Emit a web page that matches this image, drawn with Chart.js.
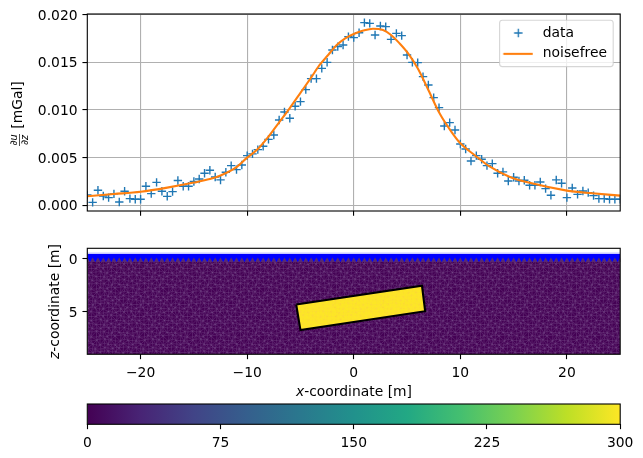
<!DOCTYPE html>
<html><head><meta charset="utf-8">
<style>
html,body{margin:0;padding:0;background:#fff;width:643px;height:458px;overflow:hidden}
.c{position:absolute;left:0;top:0;width:643px;height:458px}
</style>
<script src="https://cdn.jsdelivr.net/npm/chart.js@4/dist/chart.umd.min.js"></script>
</head><body>
<div class="c"><canvas id="top"></canvas></div>
<div class="c"><canvas id="mesh"></canvas></div>
<div class="c"><canvas id="bar"></canvas></div>
<script>
const xValues=[-25,-24.5,-24,-23.5,-23,-22.5,-22,-21.5,-21,-20.5,-20,-19.5,-19,-18.5,-18,-17.5,-17,-16.5,-16,-15.5,-15,-14.5,-14,-13.5,-13,-12.5,-12,-11.5,-11,-10.5,-10,-9.5,-9,-8.5,-8,-7.5,-7,-6.5,-6,-5.5,-5,-4.5,-4,-3.5,-3,-2.5,-2,-1.5,-1,-0.5,0,0.5,1,1.5,2,2.5,3,3.5,4,4.5,5,5.5,6,6.5,7,7.5,8,8.5,9,9.5,10,10.5,11,11.5,12,12.5,13,13.5,14,14.5,15,15.5,16,16.5,17,17.5,18,18.5,19,19.5,20,20.5,21,21.5,22,22.5,23,23.5,24,24.5,25];
const dataValues=[.00108,.0003,.00157,.00098,.0008,.0012,.00035,.00147,.0007,.00063,.00063,.002,.00122,.0024,.00147,.00094,.00143,.0026,.002,.002,.0025,.00276,.00336,.00367,.00297,.00266,.00346,.00416,.00374,.00423,.00521,.00539,.00584,.00619,.00692,.00738,.00895,.00979,.00913,.01039,.01088,.01213,.01329,.01329,.01437,.015,.0163,.01665,.01682,.0177,.01759,.01811,.01916,.01909,.01787,.01881,.01874,.01741,.01804,.0178,.01577,.015,.01497,.0135,.01262,.0113,.01025,.00832,.00867,.0079,.00643,.00591,.00465,.00521,.00483,.00416,.00437,.00336,.0035,.00255,.00294,.00255,.00262,.0021,.0021,.00245,.00175,.00105,.00266,.00231,.0008,.00182,.00115,.0015,.00133,.00101,.0007,.0007,.00063,.00063,.00063];
const curveX=[-25,-22.5,-20,-17.5,-15,-13.5,-12.5,-11,-10,-9,-8,-7,-6,-5,-4,-3.2,-2.4,-1.6,-0.8,0,0.9,1.8,2.75,3.5,4.3,5.1,6,7,8.05,9.15,10,11.3,12.7,14.6,16.7,20,22.4,25];
const curveY=[.00095,.00118,.00142,.00185,.00238,.00275,.00312,.004,.005,.0059,.0072,.0087,.0102,.0118,.0134,.01472,.01577,.01682,.01752,.01797,.01833,.01853,.01839,.01787,.01699,.01594,.01437,.0121,.00965,.00773,.0065,.0053,.0041,.003,.0023,.00154,.00126,.00101];
const topYTicks=[0,.005,.01,.015,.02];
const xTicks=[-20,-10,0,10,20];
const zTicks=[0,5];
const barTicks=[0,75,150,225,300];
const bodyX=[-5.4,6.4,6.7,-5,-5.4];
const bodyZ=[4.3,2.53,4.93,6.72,4.3];
const viridis=['#440154','#482475','#414487','#355f8d','#2a788e','#21918c','#22a884','#44bf70','#7ad151','#bddf26','#fde725'];
const jitter=[.5,-1,1,0,-.5,1,-1,.5,0,-1,.5,1,-.5,0,1,-1];

const FONT='"DejaVu Sans"', FS=13.89, INK='#000';
Chart.defaults.font.family=FONT; Chart.defaults.font.size=FS; Chart.defaults.color=INK;
Chart.defaults.animation=false; Chart.defaults.responsive=false; Chart.defaults.devicePixelRatio=1;

function setSize(id){const c=document.getElementById(id);c.width=643;c.height=458;return c;}
const minusFmt=v=>String(v).replace('-','\u2212');
function fixed(ticks){return s=>{s.ticks=ticks.map(v=>({value:v}));};}
const frame={id:'frame',afterDraw(ch){const a=ch.chartArea,c=ch.ctx;c.save();c.strokeStyle='#000';c.lineWidth=1.1;c.strokeRect(a.left,a.top,a.right-a.left,a.bottom-a.top);c.restore();}};
function runs(c,parts,cx,cy,rot){
  c.save();c.translate(cx,cy);c.rotate(rot);c.textBaseline='middle';c.fillStyle='#000';
  let w=0;parts.forEach(p=>{c.font=p[1];w+=c.measureText(p[0]).width;});
  let x=-w/2;parts.forEach(p=>{c.font=p[1];c.textAlign='left';c.fillText(p[0],x,0);x+=c.measureText(p[0]).width;});
  c.restore();
}
const N=FS+'px '+FONT, I='italic '+FS+'px '+FONT;

function meshTile(base,line){
  const cell=4,n=12,t=document.createElement('canvas');t.width=t.height=cell*n;
  const c=t.getContext('2d');c.fillStyle=base;c.fillRect(0,0,t.width,t.height);
  c.strokeStyle=line;c.lineWidth=0.7;
  const p=(i,j)=>{const a=((i%n)+n)%n,b=((j%n)+n)%n;
    return [i*cell+jitter[(a*3+b*5)%16],j*cell+jitter[(a*7+b*3+5)%16]];};
  c.beginPath();
  for(let i=-1;i<=n;i++)for(let j=-1;j<=n;j++){
    const q=p(i,j),r=p(i+1,j),d=p(i,j+1),e=((i+j)%2)?p(i+1,j+1):null;
    c.moveTo(...q);c.lineTo(...r);c.moveTo(...q);c.lineTo(...d);
    if(e){c.moveTo(...q);c.lineTo(...e);}else{c.moveTo(...r);c.lineTo(...d);}
  }
  c.stroke();return t;
}

function crossImg(){const t=document.createElement('canvas');t.width=34;t.height=10;const c=t.getContext('2d');
  c.strokeStyle='#1f77b4';c.lineWidth=1.39;c.beginPath();c.moveTo(12.3,5);c.lineTo(20.7,5);c.moveTo(16.5,.8);c.lineTo(16.5,9.2);c.stroke();return t;}
function lineImg(){const t=document.createElement('canvas');t.width=34;t.height=10;const c=t.getContext('2d');
  c.strokeStyle='#ff7f0e';c.lineWidth=2.08;c.beginPath();c.moveTo(1.5,5);c.lineTo(30.9,5);c.stroke();return t;}

const legendBox={id:'legendBox',afterLayout(ch){
  const L=ch.legend;if(!L||L._wrapped)return;L._wrapped=true;const orig=L.draw.bind(L);
  L.draw=function(){
    L.left=494.8;L.right=640;L.top=19;L.bottom=120;
    const c=ch.ctx;c.save();c.beginPath();c.roundRect(499.6,20.2,113.6,46.4,2.8);
    c.fillStyle='rgba(255,255,255,0.8)';c.fill();c.strokeStyle='rgba(204,204,204,0.8)';c.lineWidth=1.1;c.stroke();c.restore();
    orig();
  };
},afterDraw(ch){
  const c=ch.ctx;
  runs(c,[['[mGal]',N]],18.5,105,-Math.PI/2);
  c.save();c.translate(19.5,140);c.rotate(-Math.PI/2);c.fillStyle='#000';c.textAlign='center';c.textBaseline='middle';
  c.font='italic 9.7px '+FONT;c.fillText('\u2202u',0,-5);c.fillText('\u2202z',0,5.5);
  c.strokeStyle='#000';c.lineWidth=.7;c.beginPath();c.moveTo(-6,0);c.lineTo(6,0);c.stroke();c.restore();
}};

new Chart(setSize('top'),{
  type:'scatter',
  data:{datasets:[
    {label:'data',data:xValues.map((x,i)=>({x,y:dataValues[i]})),pointStyle:'cross',pointRadius:4.2,pointBorderWidth:1.39,pointBorderColor:'#1f77b4',borderColor:'#1f77b4',backgroundColor:'#1f77b4',showLine:false,order:2},
    {label:'noisefree',data:curveX.map((x,i)=>({x,y:curveY[i]})),showLine:true,pointRadius:0,borderColor:'#ff7f0e',backgroundColor:'#ff7f0e',borderWidth:2.08,cubicInterpolationMode:'monotone',order:1}
  ]},
  options:{
    layout:{padding:{left:0,top:14,right:22.8,bottom:0}},
    plugins:{tooltip:{enabled:false},legend:{position:'chartArea',align:'start',labels:{
      usePointStyle:true,pointStyleWidth:34,boxHeight:14,padding:7,font:{family:FONT,size:FS},color:'#000',
      sort:(a,b)=>a.datasetIndex-b.datasetIndex,
      generateLabels(ch){const a=Chart.defaults.plugins.legend.labels.generateLabels(ch);
        a.forEach(it=>{it.pointStyle=it.datasetIndex===0?crossImg():lineImg();});return a;}
    }}},
    scales:{
      x:{type:'linear',min:-25,max:25,afterBuildTicks:fixed(xTicks),afterFit(s){s.height=247;},
        ticks:{display:false,autoSkip:false},
        grid:{color:'#b0b0b0',lineWidth:1.1,tickLength:4.86,tickColor:'#000',tickWidth:1.1},border:{display:false}},
      y:{type:'linear',min:-.0006,max:.02007,afterBuildTicks:fixed(topYTicks),afterFit(s){s.width=87.3;},
        ticks:{padding:4.86,labelOffset:1.5,autoSkip:false,callback:v=>v.toFixed(3)},
        grid:{color:'#b0b0b0',lineWidth:1.1,tickLength:4.86,tickColor:'#000',tickWidth:1.1},border:{display:false}}
    }
  },
  plugins:[legendBox,frame]
});

const tileA=meshTile('#440154','rgba(125,85,145,0.5)');
const tileB=meshTile('#fde725','rgba(250,205,70,0.3)');
const cv2=setSize('mesh');
const pA=cv2.getContext('2d').createPattern(tileA,'repeat');
const pB=cv2.getContext('2d').createPattern(tileB,'repeat');
const labels2={id:'labels2',afterDraw(ch){
  const c=ch.ctx;
  runs(c,[['x',I],['-coordinate [m]',N]],354,392,0);
  runs(c,[['z',I],['-coordinate [m]',N]],55,301.5,-Math.PI/2);
}};
new Chart(cv2,{
  type:'scatter',
  data:{datasets:[
    {label:'ground',data:[{x:-25,y:.3},{x:25,y:.3}],showLine:true,pointRadius:0,borderWidth:0,fill:{target:{value:9}},backgroundColor:pA,order:5},
    {label:'surface',data:[{x:-25,y:-.53},{x:25,y:-.53}],showLine:true,pointRadius:0,borderColor:'#c8c8ff',borderWidth:1.4,fill:{target:{value:.3}},backgroundColor:'#0000ff',order:4},
    {label:'nodes',data:xValues.map(x=>({x,y:.14})),showLine:false,pointStyle:'triangle',pointRadius:3,pointBorderWidth:0,pointBackgroundColor:'#5a2a6e',order:3},
    {label:'body',data:bodyX.map((x,i)=>({x,y:bodyZ[i]})),showLine:true,pointRadius:0,borderColor:'#000',borderWidth:2.08,fill:'shape',backgroundColor:pB,tension:0,order:1}
  ]},
  options:{
    layout:{padding:{left:0,top:248.3,right:22.8,bottom:0}},
    plugins:{tooltip:{enabled:false},legend:{display:false}},
    scales:{
      x:{type:'linear',min:-25,max:25,afterBuildTicks:fixed(xTicks),afterFit(s){s.height=103.7;},
        ticks:{padding:6,autoSkip:false,maxRotation:0,callback:minusFmt},
        grid:{drawOnChartArea:false,tickLength:4.86,tickColor:'#000',tickWidth:1.1},border:{display:false}},
      y:{type:'linear',reverse:true,min:-1,max:9,afterBuildTicks:fixed(zTicks),afterFit(s){s.width=87.3;},
        ticks:{padding:4.86,labelOffset:1,autoSkip:false,callback:minusFmt},
        grid:{drawOnChartArea:false,tickLength:4.86,tickColor:'#000',tickWidth:1.1},border:{display:false}}
    }
  },
  plugins:[labels2,frame]
});

new Chart(setSize('bar'),{
  type:'bar',
  data:{labels:[''],datasets:[{label:'colorbar',data:[300],barPercentage:1,categoryPercentage:1,borderWidth:0,
    backgroundColor(ctx){const a=ctx.chart.chartArea;if(!a)return viridis[0];
      const g=ctx.chart.ctx.createLinearGradient(a.left,0,a.right,0);
      viridis.forEach((c,i)=>g.addColorStop(i/(viridis.length-1),c));return g;}}]},
  options:{
    indexAxis:'y',
    layout:{padding:{left:87.3,top:404,right:22.8,bottom:0}},
    plugins:{tooltip:{enabled:false},legend:{display:false}},
    scales:{
      x:{type:'linear',min:0,max:300,afterBuildTicks:fixed(barTicks),afterFit(s){s.height=33.7;},
        ticks:{padding:6,autoSkip:false,maxRotation:0,callback:v=>String(v)},
        grid:{drawOnChartArea:false,tickLength:4.86,tickColor:'#000',tickWidth:1.1},border:{display:false}},
      y:{display:false}
    }
  },
  plugins:[frame]
});
</script>
</body></html>
